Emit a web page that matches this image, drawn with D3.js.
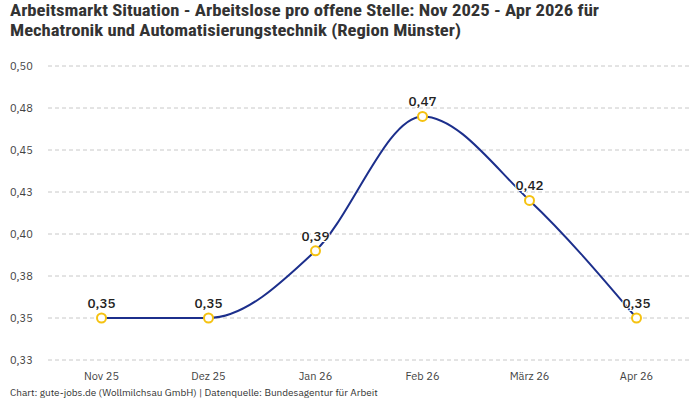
<!DOCTYPE html>
<html><head><meta charset="utf-8">
<script src="https://cdn.jsdelivr.net/npm/d3@7"></script>
<style>
body{margin:0;background:#fff;}
svg{display:block;}
</style></head>
<body>
<svg id="c" width="700" height="400"></svg>
<script>
const categories = ["Nov 25","Dez 25","Jan 26","Feb 26","März 26","Apr 26"];
const values = [0.35, 0.35, 0.39, 0.47, 0.42, 0.35];
const yTicks = [0.325,0.35,0.375,0.4,0.425,0.45,0.475,0.5];
const titleLines = ["Arbeitsmarkt Situation - Arbeitslose pro offene Stelle: Nov 2025 - Apr 2026 für","Mechatronik und Automatisierungstechnik (Region Münster)"];
const footer = "Chart: gute-jobs.de (Wollmilchsau GmbH) | Datenquelle: Bundesagentur für Arbeit";

const svg = d3.select("#c");
const font = "'IBM Plex Sans','Noto Sans',Roboto,sans-serif";
const x = d3.scaleBand().domain(categories).range([48,690]);
const y = d3.scaleLinear().domain([0.325,0.5]).range([360,66]);
const fmt = v => d3.format(".2f")(v).replace(".", ",");

svg.selectAll("text.title").data(titleLines).join("text")
  .attr("x",10).attr("y",(d,i)=>16+i*20)
  .attr("font-family","'Roboto Condensed','Liberation Sans Narrow','Open Sans',sans-serif")
  .attr("font-weight",700).attr("font-size",16.5).attr("fill","#333")
  .attr("textLength",(d,i)=>i===0?589:451).attr("lengthAdjust","spacingAndGlyphs")
  .text(d=>d);

// grid
svg.append("g").selectAll("line").data(yTicks).join("line")
  .attr("x1",48).attr("x2",690).attr("y1",d=>y(d)).attr("y2",d=>y(d))
  .attr("stroke","#c8c8c8").attr("stroke-dasharray","4,3").attr("stroke-width",1);

// y labels
svg.append("g").selectAll("text").data(yTicks).join("text")
  .attr("x",10).attr("y",d=>y(d)+4)
  .attr("font-family",font).attr("font-size",11).attr("fill","#444")
  .text(d=>fmt(Math.round(d*100+1e-9)/100));

// x labels
svg.append("g").selectAll("text").data(categories).join("text")
  .attr("x",d=>x(d)+x.bandwidth()/2).attr("y",380).attr("text-anchor","middle")
  .attr("font-family",font).attr("font-size",11).attr("fill","#444")
  .text(d=>d);

const pts = categories.map((c,i)=>({c, v:values[i]}));
const line = d3.line().x(d=>x(d.c)+x.bandwidth()/2).y(d=>y(d.v)).curve(d3.curveMonotoneX);
svg.append("path").datum(pts).attr("d",line).attr("fill","none")
  .attr("stroke","#1c2f8c").attr("stroke-width",2);

// value labels
svg.append("g").selectAll("text").data(pts).join("text")
  .attr("x",d=>x(d.c)+x.bandwidth()/2).attr("y",d=>y(d.v)-10).attr("text-anchor","middle")
  .attr("font-family",font).attr("font-size",13.5).attr("font-weight",500).attr("fill","#222")
  .attr("stroke","#fff").attr("stroke-width",2).attr("paint-order","stroke")
  .text(d=>fmt(d.v));

svg.append("g").selectAll("circle").data(pts).join("circle")
  .attr("cx",d=>x(d.c)+x.bandwidth()/2).attr("cy",d=>y(d.v)).attr("r",4.5)
  .attr("fill","#fff").attr("stroke","#f5c211").attr("stroke-width",2);

svg.append("text").attr("x",10).attr("y",396)
  .attr("font-family",font).attr("font-size",10).attr("fill","#333").text(footer);
</script>
</body></html>
